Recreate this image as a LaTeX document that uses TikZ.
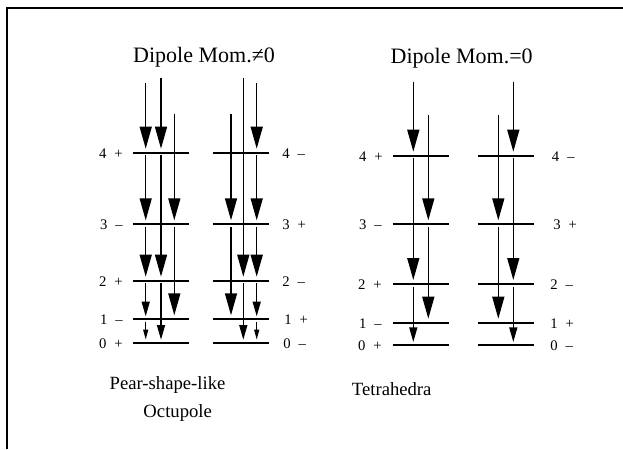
\documentclass[tikz,border=0pt]{standalone}
\usepackage{fontspec}
\setmainfont{Liberation Serif}
\usetikzlibrary{arrows.meta}
\begin{document}
\begin{tikzpicture}[x=0.75pt,y=-0.75pt,
  level/.style={line width=1.5pt},
  shaft/.style={line width=1.1pt},
  bigarr/.style={shaft,-{Triangle[width=9pt,length=16.5pt]}},
  medarr/.style={shaft,-{Triangle[width=6pt,length=11pt]}},
  smallarr/.style={shaft,-{Triangle[width=3.6pt,length=7.5pt]}},
  lab/.style={font=\fontsize{11pt}{13pt}\selectfont, inner sep=0pt},
  labl/.style={lab, anchor=base east},
  labr/.style={lab, anchor=base west},
  title/.style={font=\fontsize{16.5pt}{20pt}\selectfont, inner sep=0pt, anchor=base},
  caption/.style={font=\fontsize{14pt}{17pt}\selectfont, inner sep=0pt, anchor=base},
  frame/.style={line width=1.5pt}]
\useasboundingbox (0,0) rectangle (623,449);
\draw[frame] (6.5,449) -- (6.5,8.5) -- (623,8.5);

% titles and captions
\node[title] (t1) at (204,62.7) {Dipole Mom.≠0};
\node[title] (t2) at (461.7,64) {Dipole Mom.=0};
\node[caption] (c1) at (167.5,389) {Pear-shape-like};
\node[caption] (c2) at (177.7,417) {Octupole};
\node[caption] (c3) at (391.7,395) {Tetrahedra};

% ---------- Panel L levels ----------
\foreach \y in {152.7,224.3,280.7,319.3,342.7}{
  \draw[level] (132.7,\y) -- (189.3,\y);
  \draw[level] (212.7,\y) -- (269.3,\y);
}
\node[labl] (la4) at (123,158.2) {4\hspace{0.55em}+};
\node[labl] (la3) at (123,229.8) {3\hspace{0.55em}–};
\node[labl] (la2) at (123,286.2) {2\hspace{0.55em}+};
\node[labl] (la1) at (123,324.8) {1\hspace{0.55em}–};
\node[labl] (la0) at (123,348.2) {0\hspace{0.55em}+};
\node[labr] (lb4) at (282,158.2) {4\hspace{0.55em}–};
\node[labr] (lb3) at (282,229.8) {3\hspace{0.55em}+};
\node[labr] (lb2) at (282,286.2) {2\hspace{0.55em}–};
\node[labr] (lb1) at (284,324.8) {1\hspace{0.55em}+};
\node[labr] (lb0) at (283,348.2) {0\hspace{0.55em}–};

% group a
\draw[bigarr] (145.7,83.3) -- (145.7,148.7);
\draw[bigarr] (145.7,155.2) -- (145.7,220.3);
\draw[bigarr] (145.7,226.8) -- (145.7,276.7);
\draw[medarr] (145.7,283.2) -- (145.7,316.3);
\draw[smallarr] (145.7,321.8) -- (145.7,339.7);
\draw[bigarr] (161,78.3) -- (161,148.7);
\draw[bigarr] (161,155.2) -- (161,276.7);
\draw[medarr] (161,283.2) -- (161,339.7);
\draw[bigarr] (174.3,114) -- (174.3,220.3);
\draw[bigarr] (174.3,226.8) -- (174.3,315.3);
% group b
\draw[bigarr] (231,114) -- (231,220.3);
\draw[bigarr] (231,226.8) -- (231,315.3);
\draw[bigarr] (243.3,78.3) -- (243.3,276.7);
\draw[medarr] (243.3,283.2) -- (243.3,339.7);
\draw[bigarr] (256.7,83.3) -- (256.7,148.7);
\draw[bigarr] (256.7,155.2) -- (256.7,220.3);
\draw[bigarr] (256.7,226.8) -- (256.7,276.7);
\draw[medarr] (256.7,283.2) -- (256.7,316.3);
\draw[smallarr] (256.7,321.8) -- (256.7,339.7);

% ---------- Panel R levels ----------
\foreach \y in {155.7,224.3,284,322.7,345}{
  \draw[level] (392.7,\y) -- (449,\y);
  \draw[level] (477.7,\y) -- (534,\y);
}
\node[labl] (lc4) at (383,161.2) {4\hspace{0.55em}+};
\node[labl] (lc3) at (382,229.8) {3\hspace{0.55em}–};
\node[labl] (lc2) at (382,289.5) {2\hspace{0.55em}+};
\node[labl] (lc1) at (382,328.2) {1\hspace{0.55em}–};
\node[labl] (lc0) at (382,350.5) {0\hspace{0.55em}+};
\node[labr] (ld4) at (551.7,161.2) {4\hspace{0.55em}–};
\node[labr] (ld3) at (553,229.8) {3\hspace{0.55em}+};
\node[labr] (ld2) at (550,289.5) {2\hspace{0.55em}–};
\node[labr] (ld1) at (550,328.2) {1\hspace{0.55em}+};
\node[labr] (ld0) at (550,350.5) {0\hspace{0.55em}–};

% group c
\draw[bigarr] (413.3,81.7) -- (413.3,151.7);
\draw[bigarr] (413.3,158.2) -- (413.3,280);
\draw[medarr] (413.3,286.5) -- (413.3,342);
\draw[bigarr] (428.3,115) -- (428.3,220.3);
\draw[bigarr] (428.3,226.8) -- (428.3,318.7);
% group d
\draw[bigarr] (498.3,115) -- (498.3,220.3);
\draw[bigarr] (498.3,226.8) -- (498.3,318.7);
\draw[bigarr] (513.3,81.7) -- (513.3,151.7);
\draw[bigarr] (513.3,158.2) -- (513.3,280);
\draw[medarr] (513.3,286.5) -- (513.3,342);
\end{tikzpicture}
\end{document}
